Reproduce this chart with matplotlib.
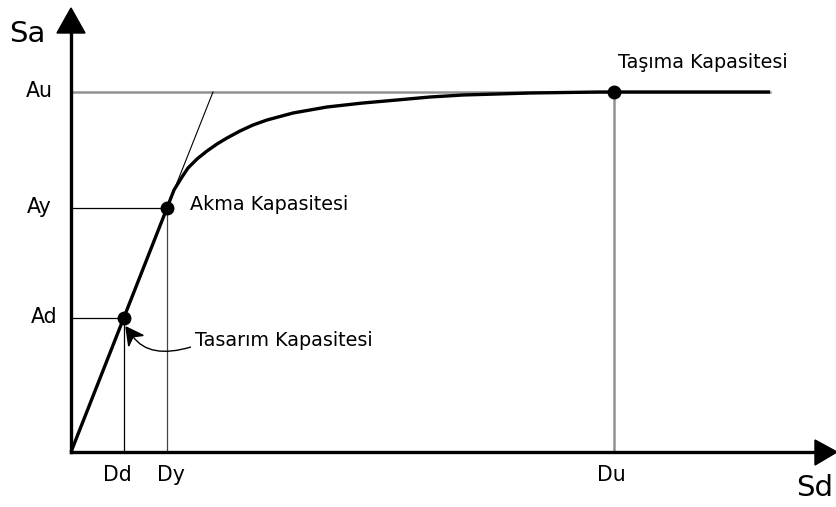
import matplotlib
matplotlib.use("Agg")
import matplotlib.pyplot as plt
import numpy as np
from matplotlib.patches import Polygon, PathPatch
from matplotlib.path import Path

# ---- data (schematic capacity curve, units ~ picture scale) ----
sd_ticks = [53, 96, 543]          # Dd, Dy, Du
sd_labels = ["Dd", "Dy", "Du"]
sa_ticks = [134, 244, 360]        # Ad, Ay, Au
sa_labels = ["Ad", "Ay", "Au"]

curve_sd = [0, 96, 103, 111, 117, 126, 136, 146, 156, 169, 182, 196,
            222, 256, 292, 326, 359, 392, 426, 459, 529, 699]
curve_sa = [0, 244, 262, 275, 284, 293, 301, 308, 314, 321, 327, 332,
            339, 345, 349, 352, 355, 357, 358, 359, 360, 360]

tangent_sd = [96, 142]
tangent_sa = [244, 360]

point_labels = ["Tasarım Kapasitesi", "Akma Kapasitesi", "Taşıma Kapasitesi"]

# ---- figure ----
W, H = 837, 507
fig = plt.figure(figsize=(W / 100, H / 100), dpi=100)
ax = fig.add_axes([0, 0, 1, 1])
ox, oy = 71, 452
ax.set_xlim(-ox, W - ox)
ax.set_ylim(oy - H, oy)
ax.axis("off")

fs_small = 13.8
fs_tick = 14.8
fs_axis = 21

Dd, Dy, Du = sd_ticks
Ad, Ay, Au = sa_ticks

# guide lines
ax.plot([0, curve_sd[-1]], [Au, Au], color="#929292", lw=1.8, zorder=1)
ax.plot([Du, Du], [0, Au], color="#929292", lw=1.8, zorder=1)
ax.plot([0, Dy], [Ay, Ay], color="black", lw=0.9, zorder=1)
ax.plot([Dy, Dy], [0, Ay], color="#444444", lw=0.9, zorder=1)
ax.plot([0, Dd], [Ad, Ad], color="black", lw=0.9, zorder=1)
ax.plot([Dd, Dd], [0, Ad], color="black", lw=0.9, zorder=1)

# tangent line
ax.plot(tangent_sd, tangent_sa, color="black", lw=0.8, zorder=2)

# main curve
ax.plot(curve_sd, curve_sa, color="black", lw=2.4, zorder=3,
        solid_joinstyle="round", solid_capstyle="butt")

# points
ax.plot([Dd, Dy, Du], [Ad, Ay, Au], "o", color="black", ms=9, zorder=4)

# axes with arrowheads
ax.plot([0, 0], [0, 420], color="black", lw=2.4, zorder=3)
ax.plot([0, 745], [0, 0], color="black", lw=2.4, zorder=3)
ax.add_patch(Polygon([[-14, 419], [14, 419], [0, 444]], closed=True,
                     color="black", zorder=5))
ax.add_patch(Polygon([[744, 12], [744, -13], [766, 0]], closed=True,
                     color="black", zorder=5))

ax.text(-62, 418, "Sa", fontsize=fs_axis, ha="left", va="center")
ax.text(762, -36, "Sd", fontsize=fs_axis, ha="right", va="center")

# tick labels
sa_right = [-14, -19, -18]
for v, lab, r in zip(sa_ticks, sa_labels, sa_right):
    ax.text(r, v + 1, lab, fontsize=fs_tick, ha="right", va="center")
sd_shift = [-7, 4, -3]
for v, lab, s in zip(sd_ticks, sd_labels, sd_shift):
    ax.text(v + s, -23, lab, fontsize=fs_tick, ha="center", va="center")

# point labels
ax.text(119, Ay + 3, point_labels[1], fontsize=fs_small, ha="left", va="center")
ax.text(547, 390, point_labels[2], fontsize=fs_small, ha="left", va="center")
ax.text(124, 111, point_labels[0], fontsize=fs_small, ha="left", va="center")

# curved pointer from "Tasarım Kapasitesi" to the design point
tip = np.array([Dd + 2, Ad - 9], dtype=float)
d = np.array([-0.59, 0.81]); d /= np.linalg.norm(d)
nrm = np.array([d[1], -d[0]])
notch = tip - 12 * d
base = tip - 17 * d
start = np.array([120.0, 105.0])
ctrl = notch - 28 * d
ax.add_patch(PathPatch(Path([start, ctrl, notch],
                            [Path.MOVETO, Path.CURVE3, Path.CURVE3]),
                       facecolor="none", edgecolor="black", lw=1.0, zorder=5))
ax.add_patch(Polygon([tip, base + 9 * nrm, notch, base - 9 * nrm], closed=True,
                     color="black", zorder=5))

fig.savefig("out.png", dpi=100)
